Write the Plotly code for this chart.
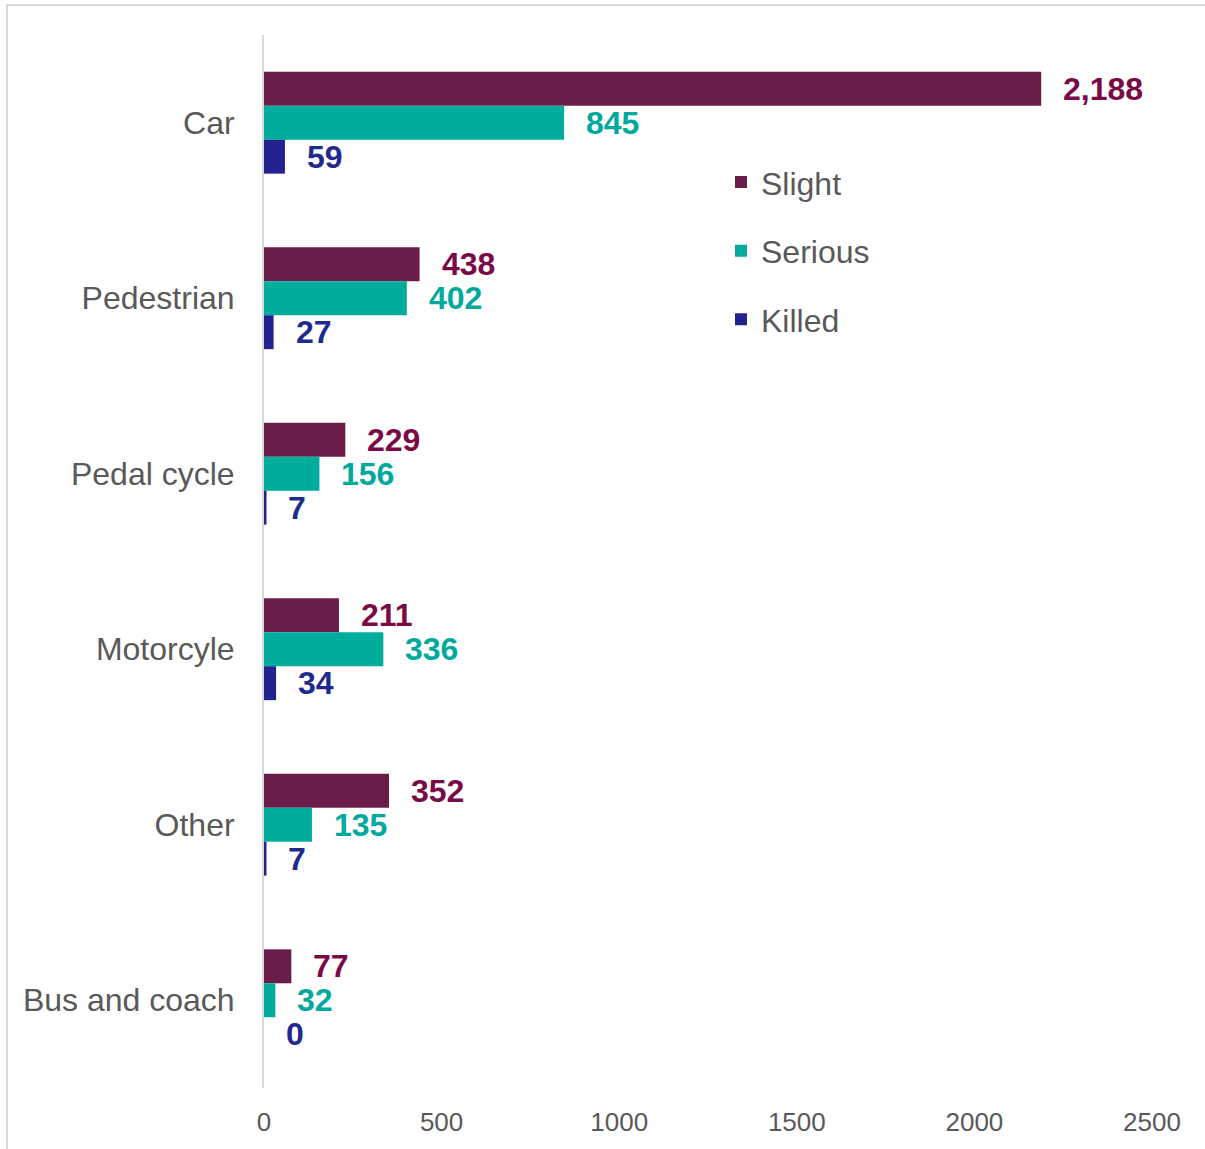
import plotly.graph_objects as go

categories = ["Car", "Pedestrian", "Pedal cycle", "Motorcyle", "Other", "Bus and coach"]
slight = [2188, 438, 229, 211, 352, 77]
serious = [845, 402, 156, 336, 135, 32]
killed = [59, 27, 7, 34, 7, 0]
x_ticks = [0, 500, 1000, 1500, 2000, 2500]

series = [
    ("Slight", slight, "#6b1d4a", "#7a0a46"),
    ("Serious", serious, "#00ac9b", "#00a99d"),
    ("Killed", killed, "#23228f", "#1f2a8f"),
]

W, H = 1205, 1149
L, T = 264, 35
R = W - 1152
B = H - 1090
pw, ph = W - L - R, H - T - B

fig = go.Figure()
annotations = []
for i, (name, vals, col, lcol) in enumerate(series):
    fig.add_trace(go.Bar(
        y=categories, x=vals, name=name, orientation="h",
        marker=dict(color=col, line=dict(width=0)),
        legendgroup=name, hoverinfo="x+y",
    ))
    for c, v in zip(categories, vals):
        annotations.append(dict(
            x=v, y=c, xref="x", yref="y", text=f"<b>{v:,}</b>",
            showarrow=False, xanchor="left", yanchor="middle",
            xshift=20, yshift=(1 - i) * 34,
            font=dict(family="Liberation Sans, Arial", size=32, color=lcol),
        ))

fig.update_layout(
    width=W, height=H,
    margin=dict(l=L, r=R, t=T, b=B, pad=0),
    paper_bgcolor="white", plot_bgcolor="white",
    barmode="group", bargap=0.42, bargroupgap=0,
    font=dict(family="Liberation Sans, Arial", color="#595959"),
    showlegend=True,
    legend=dict(
        x=(721 - L) / pw, y=(H - B - 155) / ph, xanchor="left", yanchor="top",
        font=dict(size=32, color="#595959"), bgcolor="rgba(0,0,0,0)",
        traceorder="grouped", tracegroupgap=24, itemwidth=30,
    ),
    xaxis=dict(
        range=[0, 2500], tickvals=x_ticks, showgrid=False, zeroline=False,
        showline=False, ticks="", ticklabelstandoff=16,
        tickfont=dict(size=26, color="#595959"),
    ),
    yaxis=dict(
        autorange="reversed", showgrid=False, zeroline=False,
        showline=True, linecolor="#d9d9d9", linewidth=2, ticks="",
        ticklabelstandoff=21, tickfont=dict(size=32, color="#595959"),
    ),
    annotations=annotations,
    shapes=[dict(
        type="rect", xref="paper", yref="paper",
        x0=(7 - L) / pw, x1=(W + 30 - L) / pw,
        y0=(H - B - (H + 30)) / ph, y1=(H - B - 5) / ph,
        line=dict(color="#d9d9d9", width=2), fillcolor="rgba(0,0,0,0)", layer="below",
    )],
)

fig.write_html(
    "out.html",
    config={"displayModeBar": False},
    post_script="document.body.style.margin='0';document.body.style.overflow='hidden';",
)
